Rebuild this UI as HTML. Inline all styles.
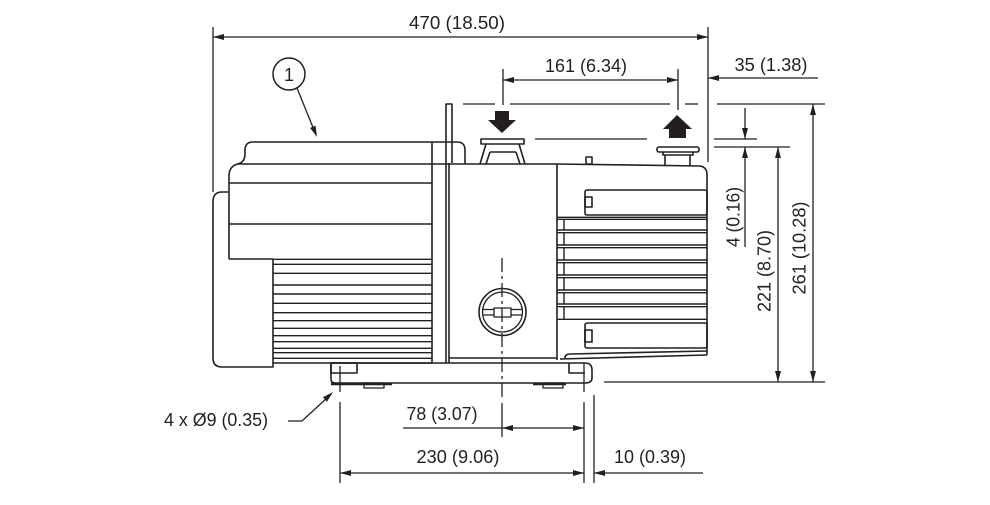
<!DOCTYPE html>
<html><head><meta charset="utf-8"><style>
html,body{margin:0;padding:0;background:#fff;}
svg{display:block;}
text{font-family:"Liberation Sans",Arial,sans-serif;font-size:18px;fill:#231f20;}
</style></head><body>
<svg width="990" height="505" viewBox="0 0 990 505" xmlns="http://www.w3.org/2000/svg">
<g fill="none" stroke="#231f20" stroke-width="1.6" stroke-linejoin="round">
<!-- motor top cover -->
<path d="M229 259 V176 Q229 166 238 164 Q245 162 245 154 V150 Q245 142 253 142 H457 Q465 142 465 150 V164"/>
<line x1="238" y1="164" x2="556" y2="164"/>
<line x1="229" y1="183" x2="432" y2="183"/>
<line x1="229" y1="224" x2="432" y2="224"/>
<line x1="229" y1="259" x2="273" y2="259"/>
<line x1="432" y1="142" x2="432" y2="363"/>
<!-- fan cover -->
<path d="M229 192 H222 Q213 192 213 202 V358 Q213 367 222 367 H273 V259"/>
<!-- fins -->
<g stroke-width="1.4">
<line x1="273" y1="259.3" x2="432" y2="259.3"/>
<line x1="273" y1="264.3" x2="432" y2="264.3"/>
<line x1="273" y1="273.3" x2="432" y2="273.3"/>
<line x1="273" y1="285" x2="432" y2="285"/>
<line x1="273" y1="294" x2="432" y2="294"/>
<line x1="273" y1="303.3" x2="432" y2="303.3"/>
<line x1="273" y1="312.7" x2="432" y2="312.7"/>
<line x1="273" y1="320.7" x2="432" y2="320.7"/>
<line x1="273" y1="328.3" x2="432" y2="328.3"/>
<line x1="273" y1="335.7" x2="432" y2="335.7"/>
<line x1="273" y1="341.7" x2="432" y2="341.7"/>
<line x1="273" y1="348.3" x2="432" y2="348.3"/>
<line x1="273" y1="352.7" x2="432" y2="352.7"/>
<line x1="273" y1="358.3" x2="432" y2="358.3"/>
</g>
<line x1="273" y1="363" x2="432" y2="363"/>
<!-- rod -->
<path d="M446 163 V104 H452 V163"/>
<line x1="446" y1="163" x2="446" y2="363"/>
<line x1="449" y1="163" x2="449" y2="363"/>
<!-- pump front face -->
<line x1="449" y1="358" x2="557" y2="358"/>
<line x1="557" y1="164" x2="557" y2="360"/>
<!-- pump body right -->
<path d="M556 164 L700 166 Q707 167 707 175 V355"/>
<rect x="585" y="190" width="122" height="25" rx="2"/>
<rect x="585" y="197" width="7" height="10"/>
<rect x="585" y="323" width="122" height="25" rx="2"/>
<rect x="585" y="330" width="7" height="12"/>
<g stroke-width="1.4">
<line x1="557" y1="217.3" x2="707" y2="217.3"/>
<line x1="557" y1="219.3" x2="707" y2="219.3"/>
<line x1="557" y1="230" x2="707" y2="230"/>
<line x1="557" y1="232.7" x2="707" y2="232.7"/>
<line x1="557" y1="245" x2="707" y2="245"/>
<line x1="557" y1="247.7" x2="707" y2="247.7"/>
<line x1="557" y1="260" x2="707" y2="260"/>
<line x1="557" y1="262.7" x2="707" y2="262.7"/>
<line x1="557" y1="275" x2="707" y2="275"/>
<line x1="557" y1="277.7" x2="707" y2="277.7"/>
<line x1="557" y1="290" x2="707" y2="290"/>
<line x1="557" y1="292.7" x2="707" y2="292.7"/>
<line x1="557" y1="304" x2="707" y2="304"/>
<line x1="557" y1="306.7" x2="707" y2="306.7"/>
<line x1="557" y1="319.3" x2="707" y2="319.3"/>
<line x1="564" y1="219.3" x2="564" y2="230"/>
<line x1="564" y1="232.7" x2="564" y2="245"/>
<line x1="564" y1="247.7" x2="564" y2="260"/>
<line x1="564" y1="262.7" x2="564" y2="275"/>
<line x1="564" y1="277.7" x2="564" y2="290"/>
<line x1="564" y1="292.7" x2="564" y2="304"/>
<line x1="564" y1="306.7" x2="564" y2="319.3"/>
</g>
<!-- lip -->
<path d="M565 358 Q565 354 570 354 L707 351"/>
<line x1="560" y1="359" x2="707" y2="355"/>
<!-- pump tab -->
<rect x="586" y="157" width="6" height="7"/>
<!-- inlet flange -->
<rect x="481" y="139" width="43" height="5"/>
<path d="M486 144 L480 164 M519 144 L525 164 M490 152 H516 M490 152 L486 164 M516 152 L520 164"/>
<!-- outlet flange -->
<rect x="657" y="147" width="42" height="5" rx="2"/>
<path d="M663 152 V155 H693 V152 M665 155 V165 M690 155 V166"/>
<!-- sight glass -->
<circle cx="502.5" cy="312" r="23.5"/>
<circle cx="502.5" cy="312" r="20" stroke-width="1.3"/>
<rect x="494" y="308" width="17" height="9" stroke-width="1.3"/>
<path d="M483 309.5 H494 M511 309.5 H522 M483 315 H494 M511 315 H522" stroke-width="1.2"/>
<!-- base -->
<path d="M331 363 H585 Q592 363 592 370 V378 Q592 383 585 383 H335 Q331 383 331 379 Z"/>
<rect x="331" y="363" width="26" height="10"/>
<path d="M569 363 V373 H585"/>
<rect x="364" y="383" width="20" height="5" stroke-width="1.3"/>
<rect x="543" y="383" width="20" height="5" stroke-width="1.3"/>
<line x1="331" y1="384" x2="392" y2="384" stroke-width="2.4"/>
<line x1="533" y1="384" x2="566" y2="384" stroke-width="2.4"/>
</g>

<!-- centre lines -->
<g fill="none" stroke="#231f20" stroke-width="1.3">
<line x1="502" y1="258" x2="502" y2="400" stroke-dasharray="14 4 3 4"/>
<line x1="340" y1="366" x2="340" y2="392"/>
<line x1="584" y1="363" x2="584" y2="392"/>
<line x1="463" y1="104" x2="495" y2="104"/>
<line x1="510" y1="104" x2="670" y2="104"/>
<line x1="685" y1="104" x2="698" y2="104"/>
<line x1="535" y1="139" x2="647" y2="139"/>
</g>

<!-- dimension lines -->
<g fill="none" stroke="#231f20" stroke-width="1.3">
<!-- 470 -->
<line x1="213" y1="27" x2="213" y2="192"/>
<line x1="708" y1="27" x2="708" y2="162"/>
<line x1="213" y1="37" x2="708" y2="37"/>
<!-- 161 -->
<line x1="503" y1="69" x2="503" y2="105"/>
<line x1="678" y1="69" x2="678" y2="110"/>
<line x1="503" y1="80" x2="678" y2="80"/>
<!-- 35 -->
<line x1="708" y1="78" x2="818" y2="78"/>
<!-- right side -->
<line x1="717" y1="104" x2="825" y2="104"/>
<line x1="714" y1="139" x2="757" y2="139"/>
<line x1="714" y1="147" x2="790" y2="147"/>
<line x1="604" y1="382" x2="825" y2="382"/>
<line x1="745" y1="108" x2="745" y2="139"/>
<line x1="745" y1="147" x2="745" y2="247"/>
<line x1="778" y1="147" x2="778" y2="382"/>
<line x1="813" y1="104" x2="813" y2="382"/>
<!-- bottom -->
<line x1="340" y1="402" x2="340" y2="483"/>
<line x1="584" y1="402" x2="584" y2="483"/>
<line x1="594" y1="395" x2="594" y2="483"/>
<line x1="502" y1="403" x2="502" y2="437"/>
<line x1="403" y1="428" x2="584" y2="428"/>
<line x1="340" y1="473" x2="584" y2="473"/>
<line x1="594" y1="473" x2="703" y2="473"/>
<!-- leaders -->
<line x1="297" y1="88" x2="314" y2="130"/>
<polyline points="288,421 302,421 327,398"/>
<circle cx="289" cy="74" r="16" stroke-width="1.5"/>
</g>

<!-- arrowheads -->
<g fill="#231f20" stroke="none">
<polygon points="213,37 224,34 224,40"/>
<polygon points="708,37 697,34 697,40"/>
<polygon points="503,80 514,77 514,83"/>
<polygon points="678,80 667,77 667,83"/>
<polygon points="708,78 719,75 719,81"/>
<polygon points="502,428 513,425 513,431"/>
<polygon points="584,428 573,425 573,431"/>
<polygon points="340,473 351,470 351,476"/>
<polygon points="584,473 573,470 573,476"/>
<polygon points="594,473 605,470 605,476"/>
<polygon points="745,139 742,128 748,128"/>
<polygon points="745,147 742,158 748,158"/>
<polygon points="778,147 775,158 781,158"/>
<polygon points="778,382 775,371 781,371"/>
<polygon points="813,104 810,115 816,115"/>
<polygon points="813,382 810,371 816,371"/>
<polygon points="317,137 310.1,127.9 315.6,125.7"/>
<polygon points="333,392 327,401.7 322.9,397.3"/>
<!-- flow arrows -->
<polygon points="495,111 509,111 509,120 516,120 502,133 488,120 495,120"/>
<polygon points="677,115 692,129 686,129 686,138 669,138 669,129 663,129"/>
</g>

<!-- labels -->
<text x="457" y="29" text-anchor="middle" textLength="96" lengthAdjust="spacingAndGlyphs">470 (18.50)</text>
<text x="586" y="72" text-anchor="middle" textLength="82" lengthAdjust="spacingAndGlyphs">161 (6.34)</text>
<text x="771" y="71" text-anchor="middle" textLength="73" lengthAdjust="spacingAndGlyphs">35 (1.38)</text>
<text x="289" y="81" text-anchor="middle">1</text>
<text x="442" y="420" text-anchor="middle" textLength="71" lengthAdjust="spacingAndGlyphs">78 (3.07)</text>
<text x="458" y="463" text-anchor="middle" textLength="83" lengthAdjust="spacingAndGlyphs">230 (9.06)</text>
<text x="650" y="463" text-anchor="middle" textLength="72" lengthAdjust="spacingAndGlyphs">10 (0.39)</text>
<text x="216" y="426" text-anchor="middle" textLength="104" lengthAdjust="spacingAndGlyphs">4 x Ø9 (0.35)</text>
<text transform="translate(733 217) rotate(-90)" x="0" y="6.5" text-anchor="middle" textLength="60" lengthAdjust="spacingAndGlyphs">4 (0.16)</text>
<text transform="translate(764 271) rotate(-90)" x="0" y="6.5" text-anchor="middle" textLength="82" lengthAdjust="spacingAndGlyphs">221 (8.70)</text>
<text transform="translate(799 248) rotate(-90)" x="0" y="6.5" text-anchor="middle" textLength="93" lengthAdjust="spacingAndGlyphs">261 (10.28)</text>
</svg>
</body></html>
